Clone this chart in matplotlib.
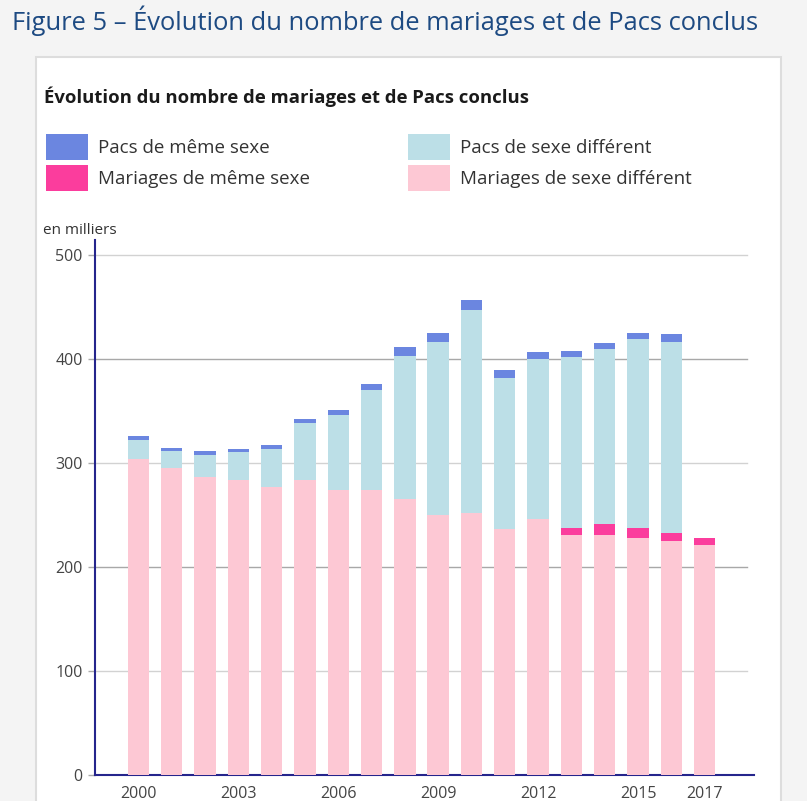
import matplotlib
matplotlib.use("Agg")
import matplotlib.pyplot as plt
from matplotlib.patches import Rectangle, Patch
import numpy as np

years = list(range(2000, 2018))
# en milliers
mariages_diff = [304, 295, 286, 283, 277, 283, 274, 274, 265, 250, 251.5, 236.5,
                 245.8, 231, 231, 228, 225, 220.5]
mariages_meme = [0, 0, 0, 0, 0, 0, 0, 0, 0, 0, 0, 0, 0, 6, 10, 9, 7.5, 7.5]
pacs_diff = [18, 16.5, 21, 27, 36, 55, 72, 96, 138, 166, 195.5, 145, 154,
             164.5, 168, 182, 183.5, 0]
pacs_meme = [4, 3, 4.5, 3, 4, 4.5, 4.5, 6, 8, 9, 9.5, 7.5, 7, 6, 6, 6, 7.5, 0]
tick_years = [2000, 2003, 2006, 2009, 2012, 2015, 2017]

colors = {
    "Mariages de sexe différent": "#fdc8d4",
    "Mariages de même sexe": "#fb3d9d",
    "Pacs de sexe différent": "#bcdfe7",
    "Pacs de même sexe": "#6b86e0",
}

plt.rcParams["font.family"] = ["Open Sans", "DejaVu Sans"]

W, H = 807, 801
fig = plt.figure(figsize=(W / 100, H / 100), dpi=100, facecolor="#f4f4f4")

def fx(px):
    return px / W

def fy(py):
    return 1 - py / H

# white panel
fig.patches.append(Rectangle((fx(36), fy(830)), fx(781) - fx(36), fy(57) - fy(830),
                             transform=fig.transFigure, facecolor="white",
                             edgecolor="#dddddd", lw=1.5, zorder=-5))

fig.text(fx(12), fy(21), "Figure 5 – Évolution du nombre de mariages et de Pacs conclus",
         fontsize=18.4, color="#1d4a82", va="center", ha="left")
fig.text(fx(44), fy(97), "Évolution du nombre de mariages et de Pacs conclus",
         fontsize=13.3, fontweight="bold", color="#1a1a1a", va="center", ha="left")
fig.text(fx(43), fy(231), "en milliers", fontsize=11, color="#333333",
         va="center", ha="left")

ax = fig.add_axes([fx(95), fy(775), fx(754) - fx(95), fy(240) - fy(775)])
ax.set_zorder(2)
ax.set_facecolor("none")

x = np.array(years)
w = 0.64
bottom = np.zeros(len(years))
for name, vals in [("Mariages de sexe différent", mariages_diff),
                   ("Mariages de même sexe", mariages_meme),
                   ("Pacs de sexe différent", pacs_diff),
                   ("Pacs de même sexe", pacs_meme)]:
    vals = np.array(vals, dtype=float)
    ax.bar(x, vals, w, bottom=bottom, color=colors[name], zorder=3, linewidth=0)
    bottom += vals

ax.set_xlim(1998.70, 2018.48)
ax.set_ylim(0, 514)
yt = [0, 100, 200, 300, 400, 500]
ax.set_yticks(yt)
for v in yt[1:]:
    ax.axhline(v, xmax=0.989, color="#a8a8a8" if v % 200 == 0 else "#d2d2d2",
               lw=1, zorder=1)
ax.set_xticks(tick_years)
ax.tick_params(axis="x", length=0, pad=8, labelsize=11.5, labelcolor="#444444")
ax.tick_params(axis="y", length=5, width=1, color="#aaaaaa", pad=4,
               labelsize=11.5, labelcolor="#444444")
for s in ["top", "right"]:
    ax.spines[s].set_visible(False)
for s in ["left", "bottom"]:
    ax.spines[s].set_color("#25258c")
    ax.spines[s].set_linewidth(1.5)

def patch(n):
    return Patch(facecolor=colors[n], edgecolor="none")

leg_kw = dict(frameon=False, fontsize=13.5, handlelength=2.25, handleheight=1.74,
              handletextpad=0.55, labelspacing=0.27, borderpad=0, borderaxespad=0,
              loc="upper left", labelcolor="#333333")
left_names = ["Pacs de même sexe", "Mariages de même sexe"]
right_names = ["Pacs de sexe différent", "Mariages de sexe différent"]
fig.legend([patch(n) for n in left_names], left_names,
           bbox_to_anchor=(fx(46), fy(134)), **leg_kw)
fig.legend([patch(n) for n in right_names], right_names,
           bbox_to_anchor=(fx(408), fy(134)), **leg_kw)

fig.savefig("out.png", dpi=100, facecolor=fig.get_facecolor())
